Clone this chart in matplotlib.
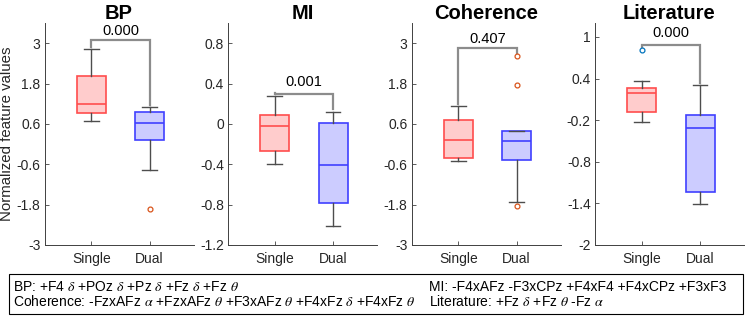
import matplotlib
matplotlib.use("Agg")
import matplotlib.pyplot as plt
from matplotlib.patches import Rectangle

plt.rcParams['font.family'] = ['Liberation Sans', 'DejaVu Sans']
plt.rcParams['mathtext.fontset'] = 'stix'

# data: [whisker low, Q1, median, Q3, whisker high]
titles = ["BP", "MI", "Coherence", "Literature"]
groups = ["Single", "Dual"]

bp_single = [0.69, 0.92, 1.20, 2.02, 2.82]
bp_dual = [-0.78, 0.12, 0.63, 0.94, 1.09]
bp_out_single = []
bp_out_dual = [-1.92]

mi_single = [-0.40, -0.27, -0.02, 0.09, 0.28]
mi_dual = [-1.01, -0.78, -0.41, 0.012, 0.12]
mi_out_single = []
mi_out_dual = []

coh_single = [-0.49, -0.40, 0.12, 0.71, 1.12]
coh_dual = [-1.72, -0.48, 0.08, 0.38, 0.38]
coh_out_single = []
coh_out_dual = [2.62, 1.77, -1.83]

lit_single = [-0.22, -0.08, 0.195, 0.27, 0.36]
lit_dual = [-1.41, -1.24, -0.32, -0.13, 0.30]
lit_out_single = [0.815]
lit_out_dual = []

p_values = ["0.000", "0.001", "0.407", "0.000"]
bracket_y = [3.10, 0.30, 2.87, 0.89]
text_y = [3.35, 0.42, 3.12, 1.06]

ylims = [(-3, 3.6), (-1.2, 1.0), (-3, 3.6), (-2, 1.2)]
yticks = [[-3, -1.8, -0.6, 0.6, 1.8, 3],
          [-1.2, -0.8, -0.4, 0, 0.4, 0.8],
          [-3, -1.8, -0.6, 0.6, 1.8, 3],
          [-2, -1.4, -0.8, -0.2, 0.4, 1]]

footer_left = [r"BP: +F4 $\delta$ +POz $\delta$ +Pz $\delta$ +Fz $\delta$ +Fz $\theta$",
               r"Coherence: -FzxAFz $\alpha$ +FzxAFz $\theta$ +F3xAFz $\theta$ +F4xFz $\delta$ +F4xFz $\theta$"]
footer_right = ["MI: -F4xAFz -F3xCPz +F4xF4 +F4xCPz +F3xF3",
                r"Literature: +Fz $\delta$ +Fz $\theta$ -Fz $\alpha$"]

panels = [(bp_single, bp_dual, bp_out_single, bp_out_dual),
          (mi_single, mi_dual, mi_out_single, mi_out_dual),
          (coh_single, coh_dual, coh_out_single, coh_out_dual),
          (lit_single, lit_dual, lit_out_single, lit_out_dual)]

W, H = 747, 316
fig = plt.figure(figsize=(W / 100, H / 100), dpi=100)

lefts = [44.5, 228, 411.5, 595]
ax_w, ax_bot, ax_h = 149, 71, 222

fill_cols = [(1, 0.8, 0.8), (0.8, 0.8, 1)]
edge_cols = [(1, 0.3, 0.3), (0.25, 0.25, 1)]
out_cols = [(0, 0.45, 0.74), (0.85, 0.33, 0.1)]
axis_col = (0.25, 0.25, 0.25)
text_col = (0.15, 0.15, 0.15)

def stats(v, fl, lab):
    return dict(whislo=v[0], q1=v[1], med=v[2], q3=v[3], whishi=v[4],
                fliers=fl, label=lab)

for i, (s, d, os_, od) in enumerate(panels):
    ax = fig.add_axes([lefts[i] / W, ax_bot / H, ax_w / W, ax_h / H])
    for j, (v, fl) in enumerate([(s, os_), (d, od)]):
        ax.bxp([stats(v, fl, groups[j])], positions=[j + 1], widths=0.5,
               patch_artist=True,
               boxprops=dict(facecolor=fill_cols[j], edgecolor=edge_cols[j], linewidth=1.2),
               medianprops=dict(color=edge_cols[j], linewidth=1.2),
               whiskerprops=dict(color=(0.3, 0.3, 0.3), linewidth=1.0),
               capprops=dict(color=(0.3, 0.3, 0.3), linewidth=1.0),
               capwidths=0.25,
               flierprops=dict(marker='o', markersize=3.5, markerfacecolor='none',
                               markeredgecolor=out_cols[j], markeredgewidth=0.9))
    # significance bracket
    tops = [max([s[4]] + os_), max([d[4]] + od)]
    by = bracket_y[i]
    gap = (ylims[i][1] - ylims[i][0]) * 0.012
    ax.plot([1, 1, 2, 2], [tops[0] + gap, by, by, tops[1] + gap],
            color=(0.55, 0.55, 0.55), linewidth=1.6, solid_joinstyle='miter', zorder=1)
    ax.text(1.5, text_y[i], p_values[i], ha='center', va='center', fontsize=10.5)

    ax.set_xlim(0.2, 2.75)
    ax.set_ylim(*ylims[i])
    ax.set_yticks(yticks[i])
    ax.set_yticklabels(["%g" % t for t in yticks[i]])
    ax.set_xticks([1, 2])
    ax.set_xticklabels(groups)
    ax.set_title(titles[i], fontsize=14.5, fontweight='bold', pad=3)
    for sp in ['top', 'right']:
        ax.spines[sp].set_visible(False)
    for sp in ['left', 'bottom']:
        ax.spines[sp].set_color(axis_col)
        ax.spines[sp].set_linewidth(0.7)
    ax.tick_params(direction='in', length=3, width=0.6, colors=axis_col,
                   labelcolor=text_col, labelsize=10)
    ax.tick_params(axis='x', pad=5)
    ax.tick_params(axis='y', pad=3)
    if i == 0:
        ax.set_ylabel("Normalized feature values", fontsize=10.8, color=text_col, labelpad=2)

# footer box
box_top, box_bot = 274, 314
fig.add_artist(Rectangle((9 / W, 1 - box_bot / H), 734 / W, (box_bot - box_top) / H,
                         transform=fig.transFigure, fill=False, edgecolor='black', linewidth=0.8))
for k, txt in enumerate(footer_left):
    fig.text(13 / W, 1 - (287 + 15 * k) / H, txt, ha='left', va='center', fontsize=10)
for k, txt in enumerate(footer_right):
    fig.text(429 / W, 1 - (287 + 15 * k) / H, txt, ha='left', va='center', fontsize=10)

fig.savefig("out.png", dpi=100)
